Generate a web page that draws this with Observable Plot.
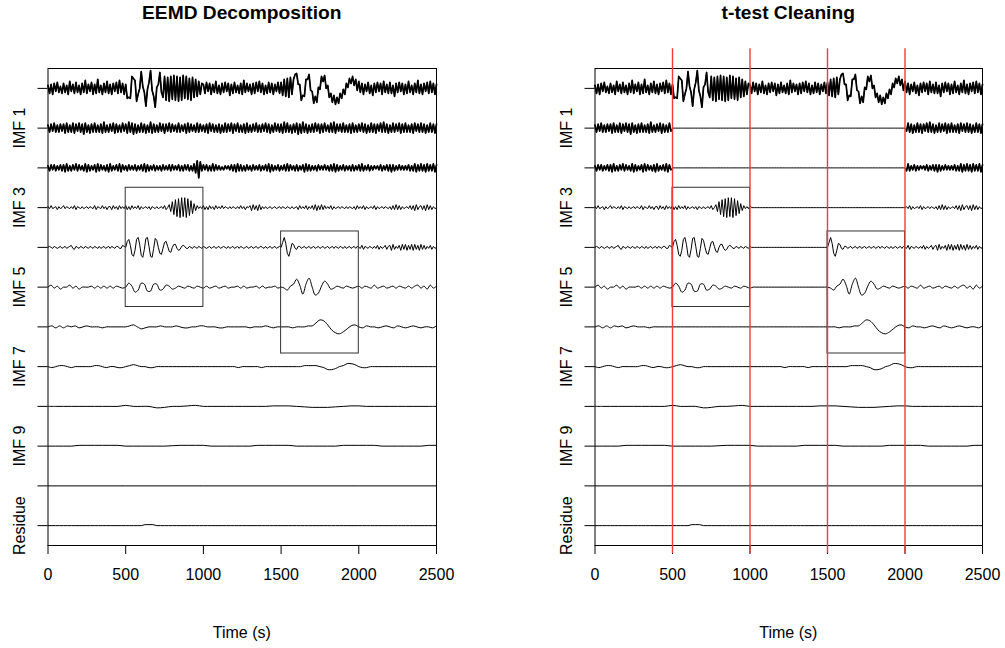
<!DOCTYPE html>
<html>
<head>
<meta charset="utf-8">
<script src="https://cdn.jsdelivr.net/npm/d3@7"></script>
<script src="https://cdn.jsdelivr.net/npm/@observablehq/plot@0.6"></script>
<style>
  html, body { margin: 0; padding: 0; background: #fff; }
  #wrap { position: relative; width: 1005px; height: 648px; font-family: "Liberation Sans", Arial, sans-serif; color: #000; overflow: hidden; }
  .panel { position: absolute; top: 0; }
  .title { position: absolute; top: 2px; font-weight: bold; font-size: 19.2px; line-height: 22px; white-space: nowrap; transform: translateX(-50%); }
  .xlab { position: absolute; top: 624px; font-size: 16px; line-height: 18px; white-space: nowrap; transform: translateX(-50%); }
</style>
</head>
<body>
<div id="wrap"></div>
<script>
// ---------------- data (amplitudes) ----------------
const panelTitles = ["EEMD Decomposition", "t-test Cleaning"];
const xLabel = "Time (s)";
const xTicks = [0, 500, 1000, 1500, 2000, 2500];
const componentNames = ["Signal", "IMF 1", "IMF 2", "IMF 3", "IMF 4", "IMF 5", "IMF 6", "IMF 7", "IMF 8", "IMF 9", "IMF 10", "Residue"];
const tickLabels = ["", "IMF 1", "", "IMF 3", "", "IMF 5", "", "IMF 7", "", "IMF 9", "", "Residue"];
// sampling interval (s) of each component's value list
const sampleStep = [10, 10, 10, 10, 10, 20, 25, 25, 50, 50, 500, 25];

const signal = [
  3,-5,4,-6,5,-3,6,-4,2,-5,
  5,-4,3,-6,7,-3,4,-5,6,-4,
  3,-6,5,-4,8,-5,4,-3,6,-6,
  4,-5,9,-4,3,-6,5,-4,7,-5,
  4,-6,5,-3,6,-5,8,-4,5,-6,
  4,-10,-9,-10,12,10,8,-13,-6,0,
  17,2,-4,-18,-1,6,18,-2,-8,-19,
  1,4,16,-4,-9,12,-12,11,-13,12,
  -11,13,-12,12,-13,11,-12,13,-10,12,
  -11,10,-12,11,-9,9,-8,7,-6,5,
  4,-5,6,-3,5,-6,4,-4,7,-5,
  3,-6,5,-4,6,-3,5,-7,4,-5,
  6,-4,3,-5,5,-6,8,-4,5,-3,
  4,-6,5,-5,6,-3,7,-4,5,-6,
  3,-5,6,-4,5,-6,4,-3,6,-5,
  6,-7,9,-8,10,-9,11,-6,9,14,
  15,4,4,-12,-7,-8,9,9,14,-2,
  -3,-15,-8,-14,1,-1,12,7,13,0,
  3,-9,-5,-14,-7,-16,-9,-15,-5,-10,
  -1,-6,5,1,10,5,12,3,9,-2,
  7,-4,5,-6,4,-3,6,-5,3,-7,
  5,-4,6,-3,5,-6,7,-4,4,-5,
  6,-5,3,-8,5,-4,6,-3,5,-6,
  4,-5,7,-4,3,-6,5,-4,8,-5,
  4,-6,5,-3,6,-5,7,-4,5,-6,4
];
const imf1 = [
  3,-4,4,-3,5,-4,3,-4,4,-3,
  4,-5,5,-4,3,-4,5,-5,4,-3,
  5,-4,4,-6,5,-4,3,-5,4,-4,
  5,-4,3,-4,4,-5,6,-4,3,-4,
  4,-3,5,-5,4,-4,3,-4,5,-3,
  4,-5,6,-4,5,-6,4,-5,3,-4,
  5,-4,4,-5,3,-4,6,-5,4,-4,
  3,-4,5,-3,4,-5,4,-3,5,-4,
  4,-3,3,-4,5,-4,3,-3,4,-5,
  5,-4,4,-3,3,-4,5,-4,4,-3,
  3,-4,4,-5,5,-3,4,-4,3,-4,
  4,-5,3,-4,5,-4,4,-3,5,-5,
  4,-3,5,-4,3,-4,4,-5,5,-4,
  3,-4,4,-3,5,-4,3,-4,4,-3,
  5,-4,4,-5,3,-4,5,-3,4,-4,
  4,-5,6,-4,5,-4,3,-5,4,-4,
  5,-6,4,-5,6,-4,4,-5,3,-4,
  4,-4,5,-3,4,-5,4,-4,5,-3,
  3,-4,5,-4,6,-5,4,-3,4,-4,
  5,-4,3,-4,4,-5,5,-4,3,-4,
  4,-3,5,-4,4,-5,3,-4,5,-4,
  4,-5,4,-3,5,-4,6,-4,4,-5,
  3,-4,5,-4,4,-3,5,-5,4,-4,
  5,-4,3,-4,4,-5,5,-3,4,-4,
  5,-4,4,-5,3,-4,5,-4,4,-5,4
];
const imf2 = [
  2,-3,3,-2,3,-3,2,-2,3,-3,
  3,-4,4,-3,2,-3,3,-2,4,-3,
  3,-2,2,-3,4,-4,3,-3,2,-2,
  3,-4,4,-3,3,-2,2,-3,3,-4,
  4,-3,2,-2,3,-3,4,-4,3,-2,
  2,-3,3,-2,2,-2,3,-3,2,-2,
  3,-3,4,-4,3,-3,2,-2,3,-3,
  2,-2,2,-3,3,-2,2,-2,3,-3,
  3,-2,2,-2,3,-3,2,-3,3,-2,
  3,-3,2,-3,4,-5,7,-10,6,-3,
  3,-2,3,-3,2,-3,4,-3,3,-2,
  2,-2,1,-2,2,-1,2,-2,3,-3,
  3,-4,4,-3,3,-3,2,-3,3,-2,
  2,-3,3,-2,2,-2,3,-3,2,-2,
  3,-3,4,-4,3,-3,2,-2,3,-3,
  2,-2,3,-3,4,-3,3,-2,2,-3,
  3,-3,2,-2,3,-4,4,-3,3,-3,
  2,-2,2,-3,3,-2,2,-2,3,-2,
  2,-3,3,-3,4,-4,3,-3,2,-2,
  3,-3,2,-2,2,-3,3,-3,2,-2,
  3,-3,4,-3,2,-2,3,-3,2,-2,
  2,-1,2,-2,3,-3,2,-2,3,-3,
  3,-4,3,-3,2,-2,3,-2,2,-2,
  2,-2,3,-3,2,-3,4,-4,3,-3,
  4,-3,3,-4,4,-3,3,-3,4,-4,3
];
const imf3 = [
  1,-1,2,-1,0,1,-2,1,-1,0,
  2,-1,1,0,-1,1,-1,2,-2,1,
  0,-1,1,-1,0,1,-1,1,0,-1,
  2,-2,1,0,-1,2,-1,1,-2,1,
  1,-2,2,-1,1,-2,2,-1,1,-1,
  2,-2,1,-2,2,-1,1,-1,2,-2,
  1,-1,0,1,-1,1,-2,1,0,-1,
  1,-1,0,1,-1,2,-2,0,3,-4,
  6,-7,8,-9,9,-10,10,-9,10,-10,
  9,-8,7,-6,4,-3,2,-1,1,-1,
  2,-2,1,-2,2,-1,1,-2,2,-1,
  1,-1,2,-1,1,0,-1,1,-1,1,
  0,-1,1,-1,2,-1,1,-2,1,0,
  2,-3,3,-2,2,-3,3,-2,1,-1,
  1,-1,0,1,-1,0,1,-1,0,1,
  -1,1,0,-1,1,0,-1,1,-1,0,
  1,-2,2,-1,1,-1,2,-2,1,-1,
  2,-2,3,-3,2,-2,3,-2,2,-1,
  1,-1,2,-2,1,-1,0,1,-1,1,
  0,-1,1,-1,1,0,-1,1,-2,2,
  -1,1,-1,2,-2,1,-1,0,1,-1,
  2,-2,1,-1,0,1,-1,1,0,-1,
  1,-2,2,-2,3,-2,2,-2,1,-1,
  0,1,-1,2,-2,2,-3,3,-2,1,
  2,-2,2,-3,3,-2,2,-2,1,-1,0
];
const imf4 = [
  0,1,0,-1,1,0,-1,0,1,-1,
  0,1,-1,0,1,2,-1,-2,1,0,
  -1,1,0,-1,1,0,-1,1,0,-1,
  1,0,-1,1,-1,0,1,-1,0,1,
  -1,1,0,-1,1,1,-1,-1,2,1,
  0,6,8,2,-7,-9,-3,8,10,3,
  -8,-10,-2,9,10,1,-9,-10,-1,9,
  7,0,-6,-7,-1,5,6,1,-4,-5,
  0,3,3,-1,-3,-2,1,2,1,-1,
  -1,1,0,-1,1,0,-1,1,0,-1,
  1,0,-1,0,1,-1,0,1,-1,0,
  1,-1,0,1,0,-1,1,-1,0,1,
  -1,0,1,-1,1,0,-1,0,1,-1,
  0,1,-1,0,1,-1,0,1,0,-1,
  1,-1,0,1,-1,0,1,-1,0,1,
  0,5,10,4,-6,-9,-3,4,3,-1,
  -2,1,1,-1,0,1,-1,0,1,-1,
  0,1,-1,0,1,-1,0,1,-1,0,
  1,-1,0,1,-1,1,0,-1,1,0,
  -1,1,-1,0,1,-1,0,1,-1,1,
  0,-1,2,-2,1,0,-1,1,0,-1,
  1,-1,2,-2,1,-1,0,2,-2,1,
  2,-3,3,-2,1,-1,2,-3,3,-2,
  3,-3,2,-2,3,-3,3,-2,2,-3,
  3,-2,2,-2,1,-1,2,-2,1,-1,0
];
const imf5 = [
  0,2,-1,1,-2,0,0,2,-1,1,
  -2,0,0,0,1,-1,1,-1,1,-1,
  1,-1,1,0,-1,0,4,1,-5,-3,
  4,3,-4,-4,3,3,-3,-2,2,1,
  -2,-1,1,0,-1,1,0,-1,1,0,
  -1,1,-1,0,1,-1,0,1,-1,0,
  0,1,-1,1,-1,0,0,1,-1,1,
  -1,0,0,1,-1,0,-1,-3,1,3,
  8,2,-7,3,9,0,-8,-6,1,6,
  3,-2,-1,1,0,-1,1,0,-1,0,
  1,-1,1,0,-1,2,-1,0,1,-1,
  0,1,-1,1,0,-1,1,-1,1,2,
  -1,1,-2,2,-1,1
];
const imf6 = [
  0,1,-1,1,-1,1,0,1,-1,0,
  1,0,0,0,-1,0,0,0,0,0,
  0,1,2,0,-2,-1,0,0,0,1,
  0,0,0,1,0,-1,-1,0,0,1,
  1,0,0,0,-1,-1,0,0,0,0,
  0,0,-1,0,0,0,1,0,-1,0,
  0,0,0,-1,0,0,0,1,1,4,
  7,6,2,-3,-6,-7,-5,-2,1,2,
  0,-1,1,0,0,-1,0,1,0,-1,
  1,0,-1,0,1,0,-1,0,0,-1,
  1
];
const imf7 = [
  0,-1,0,1,1,0,-1,0,0,0,
  0,0,1,1,0,-1,0,0,-1,-1,
  0,1,2,1,0,0,-1,-1,0,0,
  0,0,0,0,0,0,0,0,0,0,
  0,0,0,0,0,0,0,0,0,-1,
  0,0,0,0,0,-1,0,0,0,0,
  0,0,0,0,0,0,1,1,1,1,
  0,-1,-3,-3,-2,0,1,3,3,2,
  0,-1,-1,0,0,0,0,0,0,0,
  0,0,0,0,0,0,0,0,0,0,
  0
];
const imf8 = [
  0,0,0,0,0,0,0,0,0,0,
  1,0,0,0,-1.5,-1,0,0,0.5,1,
  0,0,0,0,0,0,0,0,0,0.5,
  0.5,0.5,0,-0.5,-1,-1,-1,-0.5,0,0.5,
  0.5,0,0,0,0,0,0,0,0,0,
  0
];
const imf9 = [
  0,0,0,0,0.8,0.8,0.8,0.8,0.8,0.8,
  0,0,0,0,0,0,0.4,0.8,0.8,0.8,
  0.8,0,0,0,0,0,0,0.8,0.8,0.8,
  0.8,0.8,0,0,0,0,0,0,0.8,0.8,
  0.8,0.8,0.8,0,0,0,0,0,0,0.8,
  0.8
];
const imf10 = [0, 0, 0, 0, 0, 0];
const residue = [
  0,0,0,0,0,0,0,0,0,0,
  0,0,0,0,0,0,0,0,0,0,
  0,0,0,0,0,1,1,1,0,0,
  0,0,0,0,0,0,0,0,0,0,
  0,0,0,0,0,0,0,0,0,0,
  0,0,0,0,0,0,0,0,0,0,
  0,0,0,0,0,0,0,0,0,0,
  0,0,0,0,0,0,0,0,0,0,
  0,0,0,0,0,0,0,0,0,0,
  0,0,0,0,0,0,0,0,0,0,
  0
];

// highlighted (kept) time/IMF blocks and the t-test window
const boxStart = [500, 1500];
const boxEnd = [1000, 2000];
const boxTop = [9.5, 8.4];
const boxBottom = [6.5, 5.33];
const boxImfs = [[3, 4, 5], [4, 5, 6]];
const testedImfs = [1, 2, 3, 4, 5, 6];
const cleanCuts = [500, 1000, 1500, 2000];

// ---------------- build ----------------
const series = [signal, imf1, imf2, imf3, imf4, imf5, imf6, imf7, imf8, imf9, imf10, residue];
const nRows = series.length;
const rowPos = series.map((_, r) => nRows - r);   // 12 (top) … 1 (bottom)
const gain = 1 / 40;                              // amplitude units -> row units
const smoothRows = [5, 6, 7, 8];
const denseRows = [0, 1, 2];

function kept(r, t) {
  if (!testedImfs.includes(r)) return true;
  if (t < cleanCuts[0] || t > cleanCuts[cleanCuts.length - 1]) return true;
  for (let b = 0; b < boxStart.length; b++) {
    if (boxImfs[b].includes(r) && t >= boxStart[b] && t <= boxEnd[b]) return true;
  }
  return false;
}

function buildPoints(clean) {
  const pts = [];
  series.forEach((vals, r) => {
    let run = 0, prev = true;
    vals.forEach((v, k) => {
      const t = k * sampleStep[r];
      const keep = !clean || kept(r, t);
      if (keep !== prev) run++;
      prev = keep;
      pts.push({name: componentNames[r], run: componentNames[r] + "#" + run, keep, r, t, y: rowPos[r] + (keep ? v : 0) * gain});
    });
  });
  return pts;
}

const boxes = boxStart.map((s, i) => ({x1: s, x2: boxEnd[i], y1: boxBottom[i], y2: boxTop[i]}));
const labelData = rowPos.map((p, i) => ({p, label: tickLabels[i]})).filter(d => d.label);

function panel(clean, width, marginRight) {
  const pts = buildPoints(clean);
  const marks = [
    Plot.frame({stroke: "#000"}),
    Plot.line(pts.filter(d => !smoothRows.includes(d.r)), {x: "t", y: "y", z: "name", stroke: "#000", strokeWidth: 1}),
    Plot.line(pts.filter(d => denseRows.includes(d.r) && d.keep), {x: "t", y: "y", z: "run", stroke: "#000", strokeWidth: 1.7}),
    Plot.line(pts.filter(d => smoothRows.includes(d.r)), {x: "t", y: "y", z: "name", stroke: "#000", strokeWidth: 1, curve: "catmull-rom"}),
    Plot.rect(boxes, {x1: "x1", x2: "x2", y1: "y1", y2: "y2", fill: "none", stroke: "#333", strokeWidth: 1}),
    Plot.text(labelData, {y: "p", text: "label", frameAnchor: "left", textAnchor: "middle", dx: -28, rotate: -90, fontSize: 16, fill: "#000"})
  ];
  if (clean) {
    marks.push(Plot.ruleX(cleanCuts, {x: d => d, y1: 13.0, y2: 0.3, stroke: "#f23a3a", strokeWidth: 1.4}));
  }
  return Plot.plot({
    width, height: 648,
    marginLeft: 47.5, marginRight, marginTop: 68, marginBottom: 103,
    x: {domain: [0, 2500], ticks: xTicks, tickSize: 9, tickPadding: 14, tickFormat: d => String(d), label: null},
    y: {domain: [0.5, 12.5], ticks: rowPos, tickSize: 10, tickFormat: () => "", label: null},
    style: {fontFamily: "'Liberation Sans', Arial, sans-serif", fontSize: "16px", background: "transparent", color: "#000", overflow: "visible"},
    marks
  });
}

const wrap = document.getElementById("wrap");
const layout = [
  {left: 0, width: 500, marginRight: 64, clean: false, center: 241.75},
  {left: 547, width: 458, marginRight: 23, clean: true, center: 788.25}
];
layout.forEach((L, i) => {
  const holder = document.createElement("div");
  holder.className = "panel";
  holder.style.left = L.left + "px";
  holder.appendChild(panel(L.clean, L.width, L.marginRight));
  wrap.appendChild(holder);
  const t = document.createElement("div");
  t.className = "title";
  t.style.left = L.center + "px";
  t.textContent = panelTitles[i];
  wrap.appendChild(t);
  const xl = document.createElement("div");
  xl.className = "xlab";
  xl.style.left = L.center + "px";
  xl.textContent = xLabel;
  wrap.appendChild(xl);
});
</script>
</body>
</html>
